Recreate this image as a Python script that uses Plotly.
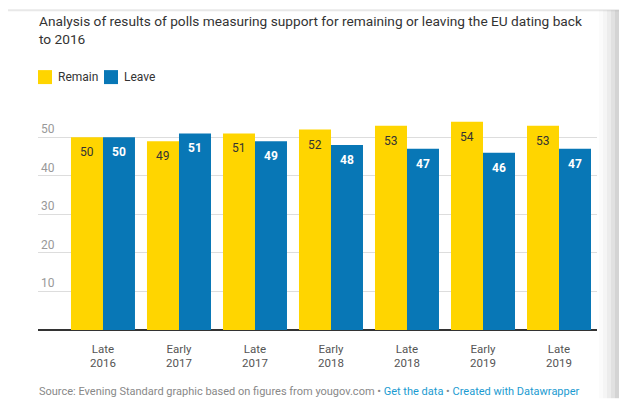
import plotly.graph_objects as go

categories = ["Late<br>2016", "Early<br>2017", "Late<br>2017", "Early<br>2018",
              "Late<br>2018", "Early<br>2019", "Late<br>2019"]
remain = [50, 49, 51, 52, 53, 54, 53]
leave = [50, 51, 49, 48, 47, 46, 47]
series_names = ["Remain", "Leave"]
series_colors = ["#FFD500", "#0877B6"]
label_colors = ["#333333", "#FFFFFF"]
y_ticks = [10, 20, 30, 40, 50]

title_text = "Analysis of results of polls measuring support for remaining or leaving the EU dating back<br>to 2016"
footer_text = ("Source: Evening Standard graphic based on figures from yougov.com \u2022 "
               "<span style='color:#1B9BD1'>Get the data</span> \u2022 "
               "<span style='color:#1B9BD1'>Created with Datawrapper</span>")

W, H = 619, 399
FONT = "Roboto"

fig = go.Figure()
for name, vals, col in zip(series_names, [remain, leave], series_colors):
    fig.add_trace(go.Bar(
        x=categories, y=vals, name=name,
        marker=dict(color=col, line=dict(width=0)),
        showlegend=False, hoverinfo="skip",
    ))

L, R, T, B = 38, 22, 118, 68.5
plot_w = W - L - R

def px_x(px):
    return (px - L) / plot_w

def px_y(py):
    return 1 - (py - T) / (H - T - B)

annotations = [
    dict(text=title_text, xref="paper", yref="paper", x=px_x(37), y=px_y(11),
         xanchor="left", yanchor="top", align="left", showarrow=False,
         font=dict(family=FONT, size=13.7, color="#333333")),
    dict(text=footer_text, xref="paper", yref="paper", x=px_x(37), y=px_y(392),
         xanchor="left", yanchor="middle", align="left", showarrow=False,
         font=dict(family=FONT, size=11, color="#888888")),
]

# value labels inside the top of each bar
bar_px = 32
for si, (vals, lc) in enumerate(zip([remain, leave], label_colors)):
    offset = -bar_px / 2 if si == 0 else bar_px / 2
    for cat, v in zip(categories, vals):
        annotations.append(dict(
            text=str(v), x=cat, y=v, xref="x", yref="y", xshift=offset, yshift=-6,
            xanchor="center", yanchor="top", showarrow=False,
            font=dict(family=FONT, size=12, color=lc,
                      weight="bold" if si == 1 else "normal"),
        ))

shapes = []
# legend built from series names/colors
leg_x = [38, 104]
for name, col, lx in zip(series_names, series_colors, leg_x):
    shapes.append(dict(type="rect", xref="paper", yref="paper",
                       x0=px_x(lx), x1=px_x(lx + 14), y0=px_y(84), y1=px_y(70),
                       fillcolor=col, line=dict(width=0)))
    annotations.append(dict(text=name, xref="paper", yref="paper", x=px_x(lx + 18), y=px_y(77),
                            xanchor="left", yanchor="middle", showarrow=False,
                            font=dict(family=FONT, size=12, color="#333333")))

# faint top rule and right-edge shadow
shapes.append(dict(type="line", xref="paper", yref="paper", x0=px_x(8), x1=px_x(619),
                   y0=px_y(10), y1=px_y(10), line=dict(color="#E8E8E8", width=2)))
for i, op in enumerate([0.015, 0.025, 0.035, 0.045, 0.055]):
    shapes.append(dict(type="rect", xref="paper", yref="paper",
                       x0=px_x(599 + 4 * i), x1=px_x(619), y0=px_y(399), y1=px_y(10),
                       fillcolor="#000000", opacity=op, line=dict(width=0), layer="above"))

fig.update_layout(
    width=W, height=H,
    margin=dict(l=L, r=R, t=T, b=B, pad=0),
    paper_bgcolor="white", plot_bgcolor="white",
    barmode="group", bargap=12 / 76, bargroupgap=0,
    font=dict(family=FONT, color="#333333"),
    xaxis=dict(range=[-0.855, 6.5], showgrid=False, zeroline=False, showline=False,
               ticks="", ticklabelstandoff=10,
               tickfont=dict(family=FONT, size=11.5, color="#555555"),
               fixedrange=True),
    yaxis=dict(range=[0, 55], tickvals=y_ticks, showgrid=True, gridcolor="#DDDDDD",
               gridwidth=1, zeroline=True, zerolinecolor="#333333", zerolinewidth=2,
               showline=False, ticks="", ticklabelposition="inside top",
               tickfont=dict(family=FONT, size=12, color="#999999"), fixedrange=True),
    annotations=annotations, shapes=shapes,
    showlegend=False,
)

fig.write_html("out.html", config={"displayModeBar": False},
               post_script="document.body.style.margin='0';document.body.style.overflow='hidden';")
